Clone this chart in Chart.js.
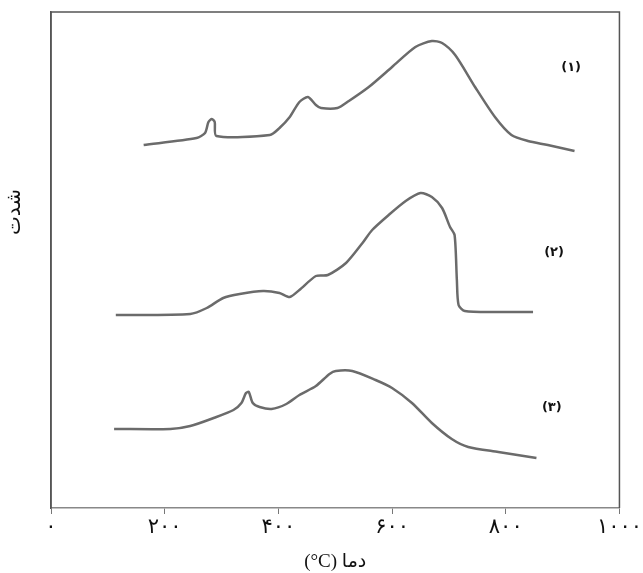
<!DOCTYPE html>
<html>
<head>
<meta charset="utf-8">
<script src="https://cdn.jsdelivr.net/npm/chart.js"></script>
<style>
  html, body { margin: 0; padding: 0; background: #fff; }
  #wrap { width: 643px; height: 573px; }
</style>
</head>
<body>
<div id="wrap"><canvas id="dtaChart"></canvas></div>
<script>
    // temperatures (oC) and relative intensity for each curve
    const temp1 = [163, 256, 271, 277, 283, 288, 291, 385, 402, 420, 437, 452, 466, 475, 504, 524, 559, 600, 641, 670, 688, 711, 746, 781, 810, 839, 874, 921];
    const int1 = [363, 370, 375, 386, 389, 386, 372, 373, 380, 391, 406, 411, 403, 400, 400, 407, 421, 441, 461, 467, 465, 453, 421, 391, 373, 367, 363, 357];

    const temp2 = [114, 245, 274, 303, 332, 373, 402, 420, 437, 466, 487, 519, 548, 565, 594, 624, 650, 670, 688, 702, 710, 714, 717, 728, 787, 848];
    const int2 = [193, 194, 200, 210, 214, 217, 215, 211, 218, 232, 233, 245, 265, 278, 293, 307, 315, 311, 300, 281, 273, 228, 203, 197, 196, 196];

    const temp3 = [111, 210, 245, 286, 321, 335, 343, 348, 355, 367, 388, 414, 437, 466, 490, 501, 530, 571, 600, 635, 670, 705, 734, 787, 854];
    const int3 = [79, 79, 82, 90, 98, 105, 115, 116, 105, 101, 99, 104, 113, 122, 134, 137, 137, 128, 120, 105, 85, 69, 61, 56, 50];

    const xTicks = [0, 200, 400, 600, 800, 1000];
    const curveLabels = ['(۱)', '(۲)', '(۳)'];
    const labelPos = [[915, 440], [885, 255], [881, 100]];

    const faDigits = '۰۱۲۳۴۵۶۷۸۹';
    function toFa(n) {
        return String(n).replace(/[0-9]/g, d => faDigits[+d]);
    }
    function pts(xs, ys) {
        return xs.map((x, i) => ({ x: x, y: ys[i] }));
    }

    const lineStyle = {
        borderColor: '#6b6b6b',
        borderWidth: 2.5,
        pointRadius: 0,
        tension: 0.25,
        fill: false
    };

    // frame around plot, curve labels and the y title
    const framePlugin = {
        id: 'frame',
        afterDraw(chart) {
            const { ctx, chartArea, scales } = chart;
            ctx.save();
            ctx.strokeStyle = '#555';
            ctx.lineWidth = 1.5;
            ctx.beginPath();
            ctx.moveTo(chartArea.left, chartArea.bottom);
            ctx.lineTo(chartArea.left, chartArea.top);
            ctx.lineTo(chartArea.right, chartArea.top);
            ctx.lineTo(chartArea.right, chartArea.bottom);
            ctx.stroke();
            ctx.fillStyle = '#111';
            ctx.font = 'bold 13px "DejaVu Sans", sans-serif';
            ctx.textAlign = 'center';
            ctx.textBaseline = 'middle';
            curveLabels.forEach((t, i) => {
                ctx.fillText(t, scales.x.getPixelForValue(labelPos[i][0]), scales.y.getPixelForValue(labelPos[i][1]));
            });
            ctx.translate(15, 212);
            ctx.rotate(-Math.PI / 2);
            ctx.font = '20px "DejaVu Sans", serif';
            ctx.fillText('شدت', 0, 0);
            ctx.restore();
        }
    };

    new Chart(document.getElementById('dtaChart'), {
        type: 'line',
        data: {
            datasets: [
                Object.assign({ label: '1', data: pts(temp1, int1) }, lineStyle),
                Object.assign({ label: '2', data: pts(temp2, int2) }, lineStyle),
                Object.assign({ label: '3', data: pts(temp3, int3) }, lineStyle)
            ]
        },
        options: {
            responsive: true,
            maintainAspectRatio: false,
            animation: false,
            layout: { padding: { top: 12, right: 21, left: 0, bottom: 0 } },
            plugins: { legend: { display: false }, tooltip: { enabled: false } },
            scales: {
                x: {
                    type: 'linear',
                    min: 0,
                    max: 1000,
                    afterBuildTicks: axis => { axis.ticks = xTicks.map(v => ({ value: v })); },
                    afterFit: axis => { axis.height = 65; },
                    ticks: {
                        callback: v => toFa(v),
                        color: '#111',
                        font: { size: 21, family: '"DejaVu Sans", serif' },
                        padding: 1,
                        maxRotation: 0
                    },
                    grid: { display: true, drawOnChartArea: false, tickLength: 6, color: '#777' },
                    border: { display: true, color: '#888', width: 1.5 },
                    title: {
                        display: true,
                        text: '(\u00B0C) دما',
                        color: '#111',
                        font: { size: 19, family: '"Liberation Serif", "DejaVu Sans", serif' },
                        padding: { top: 0, bottom: 0 }
                    }
                },
                y: {
                    min: 0,
                    max: 496,
                    afterFit: axis => { axis.width = 51; },
                    ticks: { display: false },
                    grid: { display: false },
                    border: { display: true, color: '#555', width: 1.5 }
                }
            }
        },
        plugins: [framePlugin]
    });
</script>
</body>
</html>
